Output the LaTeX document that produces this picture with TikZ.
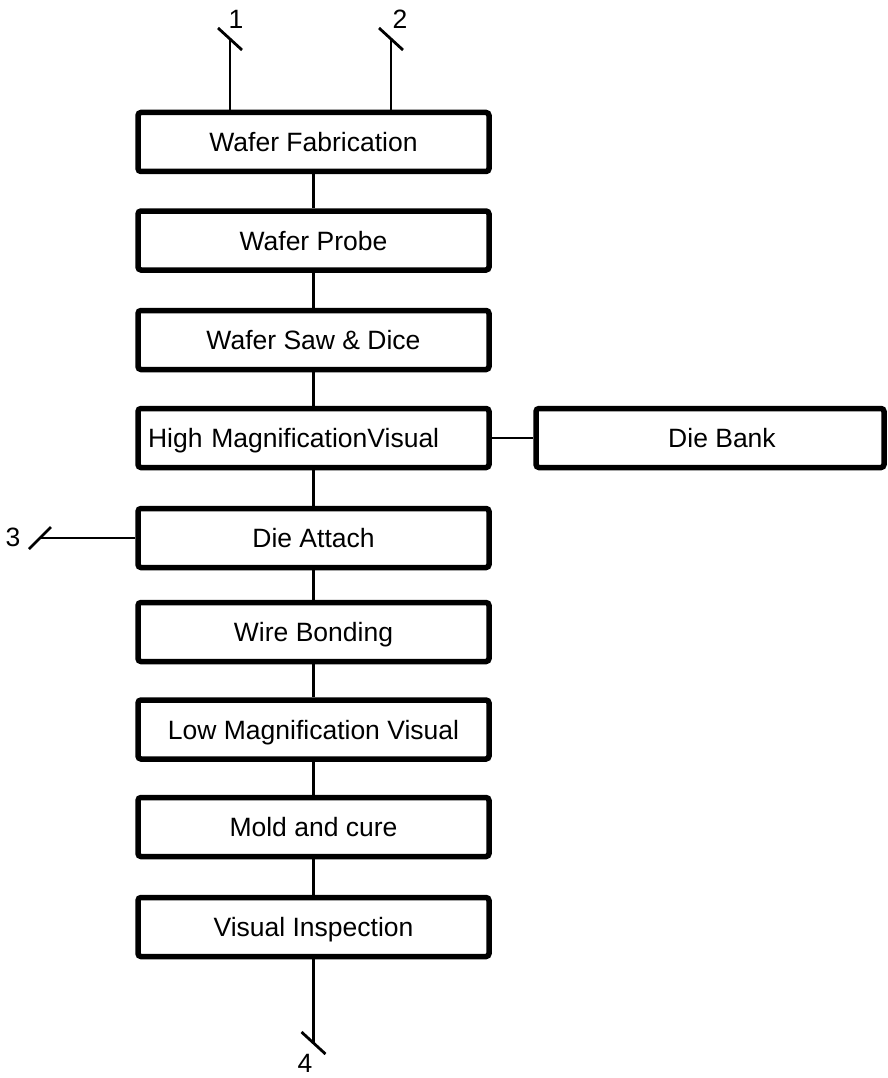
\documentclass[tikz,border=0pt]{standalone}
\usepackage{fontspec}
\setmainfont{Liberation Sans}
\usetikzlibrary{calc}
\begin{document}
\begin{tikzpicture}[x=1pt,y=-1pt,
  box/.style={draw, line width=5.5pt, rounded corners=3pt, minimum width=351pt, minimum height=59pt, inner sep=0pt, text height=19pt, text depth=0pt, font=\fontsize{26.5}{30}\selectfont},
  conn/.style={line width=2.6pt},
  tick/.style={line width=2.8pt},
  lbl/.style={inner sep=0pt, font=\fontsize{26.5}{30}\selectfont}]
\useasboundingbox (0,0) rectangle (888,1078);
\node[box] (wf) at (313.5,142) {Wafer Fabrication};
\node[box] (wp) at (313.5,240.5) {Wafer Probe};
\node[box] (ws) at (313.5,340) {Wafer Saw \& Dice};
\node[box, text width=331pt, align=left, inner xsep=10pt] (hm) at (313.5,438) {High MagnificationVisual};
\node[box] (da) at (313.5,538) {Die Attach};
\node[box] (wb) at (313.5,632) {Wire Bonding};
\node[box] (lm) at (313.5,729.5) {Low Magnification Visual};
\node[box] (mc) at (313.5,827) {Mold and cure};
\node[box] (vi) at (313.5,927) {Visual Inspection};
\node[box, minimum width=348pt] (db) at (710,438) {\hspace*{24pt}Die Bank};
\draw[conn] (wf) -- (wp);
\draw[conn] (wp) -- (ws);
\draw[conn] (ws) -- (hm);
\draw[conn] (hm) -- (da);
\draw[conn] (da) -- (wb);
\draw[conn] (wb) -- (lm);
\draw[conn] (lm) -- (mc);
\draw[conn] (mc) -- (vi);
\draw[conn] (hm.east) -- (db.west);
% free ends
\coordinate (e1) at (230,39);
\coordinate (e2) at (391,39);
\coordinate (e3) at (40,538);
\coordinate (e4) at (313.5,1043);
\draw[conn] (wf.north -| e1) -- (e1);
\draw[conn] (wf.north -| e2) -- (e2);
\draw[conn, line width=2.2pt] (da.west) -- (e3);
\draw[conn] (vi.south) -- (e4);
\draw[tick] ($(e1)+(-12,-11)$) -- ($(e1)+(12,11)$);
\draw[tick] ($(e2)+(-12,-11)$) -- ($(e2)+(12,11)$);
\draw[tick] ($(e3)+(-11,11)$) -- ($(e3)+(11,-11)$);
\draw[tick] ($(e4)+(-12,-11)$) -- ($(e4)+(12,11)$);
\node[lbl] (l1) at (236,19) {1};
\node[lbl] (l2) at (400,19) {2};
\node[lbl] (l3) at (13,537) {3};
\node[lbl] (l4) at (305,1063) {4};
\end{tikzpicture}
\end{document}
